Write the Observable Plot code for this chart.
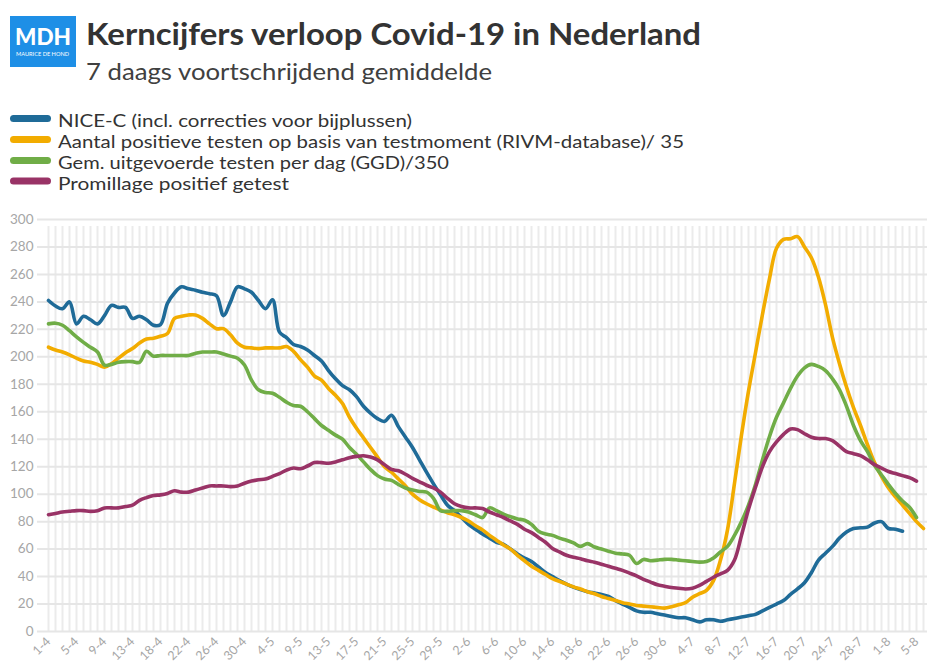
<!DOCTYPE html>
<html>
<head>
<meta charset="utf-8">
<script src="https://cdn.jsdelivr.net/npm/d3@7"></script>
<script src="https://cdn.jsdelivr.net/npm/@observablehq/plot@0.6"></script>
<style>
  html, body { margin: 0; padding: 0; background: #fff; }
  #wrap { position: relative; width: 943px; height: 671px; overflow: hidden; font-family: Lato, "Open Sans", sans-serif; }
  #hdr { position: absolute; left: 0; top: 0; }
  #chart { position: absolute; left: 0; top: 200px; }
</style>
</head>
<body>
<div id="wrap">
  <svg id="hdr" width="943" height="200"></svg>
  <div id="chart"></div>
</div>
<script>
// ---------- data ----------
const title = "Kerncijfers verloop Covid-19 in Nederland";
const subtitle = "7 daags voortschrijdend gemiddelde";
const seriesNames = [
  "NICE-C (incl. correcties voor bijplussen)",
  "Aantal positieve testen op basis van testmoment (RIVM-database)/ 35",
  "Gem. uitgevoerde testen per dag (GGD)/350",
  "Promillage positief getest"
];
const seriesColors = ["#1f6b98", "#f2ac00", "#70ad47", "#993366"];

// categories (day-month), 1-4 .. 6-8, with two dates absent in the source
const monthDays = [[4, 30], [5, 31], [6, 30], [7, 31], [8, 6]];
const absentDates = ["15-4", "6-5"];
const categories = [];
for (const [m, n] of monthDays) for (let d = 1; d <= n; d++) {
  const lab = d + "-" + m;
  if (!absentDates.includes(lab)) categories.push(lab);
}
const tickLabels = ["1-4","5-4","9-4","13-4","18-4","22-4","26-4","30-4","4-5","9-5","13-5","17-5","21-5","25-5","29-5","2-6","6-6","10-6","14-6","18-6","22-6","26-6","30-6","4-7","8-7","12-7","16-7","20-7","24-7","28-7","1-8","5-8"];
const yTicks = [0,20,40,60,80,100,120,140,160,180,200,220,240,260,280,300];

const niceC = [241,237,235,240,224,229.5,227,224,230,237.5,236,236,228,229.5,227,223,223.5,239,246.5,251,
  249.5,248.5,247,246,244.5,230,240,251,249.5,247,241,235,241.5,218,214,209,207.5,205,201,197,
  190,184,179,176,171,164,159,155,153,157.5,149,141.5,134,125,116,107.5,99.5,92,88,83,
  78,74.5,71,68,65,63.5,60,56.5,53.5,51,47,43,40,37,34.5,32.3,30.5,29,28,27,
  25.5,22.5,20,17.5,15,14,14,13,12,11,10,10,8.5,7,8.5,8.5,7.5,8.5,9.5,10.5,
  11.5,12.5,15,17.5,20,22.5,27,31,35.5,43,52,57,62,68,72.5,75,75.5,76,79,80,
  75,74.5,73];
const positief = [207,205,203.5,201.5,199,197,196,194.5,192.5,195,199,203,206,210,213,213.5,215,217,228,229.5,
  230.5,230.5,228,224,220.5,220.5,216,210,207,206.5,206,206.5,206.5,206.5,207.5,204,198,192.5,186,183,
  177,172,166,156,148,141,134,127,120,116,111,106,100,96,93,90.5,88.5,86.5,85,83,
  80.5,77,74,70,66.5,63,60,55.5,51.5,47.5,44.5,41.5,38.5,36.5,34.5,32.5,31,29,27.5,25.5,
  24,22.5,21,20,19,18.5,18,17.5,17,18,19.5,21,25,27.5,30,37,52,74,108,143,
  175,203,231,257,279,285.5,286,287.5,280,272,258,238,214,195,178,163,150,136,123,113,
  104.5,98,92,86,80,75];
const testen = [224,224.5,223,219,214.5,210.5,207,203.5,194,194.5,196,196.5,196.5,196,204,200.5,201,201,201,201,
  201,202.5,203.5,203.5,203.5,202,200.5,199,194,183,176,174,173.5,170.5,167,164.5,164,160,155,150,
  146.5,143,140,134,129,123.5,118,113.5,111,110,107,104.5,103,102,101.5,97,88,87.5,88,88,
  87,85,83,90,88,85.5,83.5,82,81,78,73,71,70,68,66.5,64.5,62,64,61.5,60,
  58.5,57,56.5,55.5,49.5,52.5,51.5,52,52.5,52.5,52,51.5,51,50.5,51,53.5,58,62,70,80,
  92,107,125,142,156,166.5,177,186,192,194.5,193,190,184,176,164,150,139,131,121,114,
  107,100.5,95,90.5,83];
const promillage = [85,86,87,87.5,88,88,87.5,88,90,90,90,91,92,95.5,97.5,99,99.5,100.5,102.5,101.5,
  101.5,103,104.5,106,106,106,105.5,106,108,109.5,110.5,111,113,115,117.5,119,118.5,120.5,123,123,
  122.5,123.5,125,126.5,127.5,128,127,125,121.5,118,117,114.5,111.5,109,106.5,104.5,101.5,97,93,91,
  90,90,89.5,87,85,83,80.5,78,74.5,72,68.5,65,60.5,58,55.5,54,53,51.5,50.5,49,
  47.5,46,44.5,42.5,40.5,38,36,34,33,32,31.5,31,31.5,33.5,36.5,39.5,42,44.5,52,70,
  89,105,120,131,138,143.5,147.5,147,144,141.5,140.5,140.5,139,135,131,129.5,128,125,121.5,119,
  116.5,115,113.5,112,109.5];

const seriesValues = [niceC, positief, testen, promillage];

// ---------- header (title, subtitle, logo, legend) ----------
const NS = "http://www.w3.org/2000/svg";
const hdr = document.getElementById("hdr");
function el(tag, attrs, text) {
  const e = document.createElementNS(NS, tag);
  for (const k in attrs) e.setAttribute(k, attrs[k]);
  if (text != null) e.textContent = text;
  hdr.appendChild(e);
  return e;
}
el("rect", {x: 10, y: 16, width: 66, height: 51, fill: "#1e8fe6"});
el("text", {x: 15, y: 45, "font-family": "Lato", "font-weight": 900, "font-size": 23, fill: "#fff", textLength: 56, lengthAdjust: "spacingAndGlyphs"}, "MDH");
el("text", {x: 16, y: 56, "font-family": "Lato", "font-size": 5, fill: "#fff", textLength: 53, lengthAdjust: "spacingAndGlyphs"}, "MAURICE DE HOND");
el("text", {x: 86, y: 45, "font-family": "Lato", "font-weight": 700, "font-size": 31, fill: "#333", textLength: 615, lengthAdjust: "spacingAndGlyphs"}, title);
el("text", {x: 86, y: 80, "font-family": "Lato", "font-size": 23, fill: "#404040", textLength: 406, lengthAdjust: "spacingAndGlyphs"}, subtitle);
const legendW = [354, 626, 391, 231];
const legendBase = [127, 148, 169, 189.5];
seriesNames.forEach((name, i) => {
  el("line", {x1: 13.5, x2: 47.5, y1: legendBase[i] - 8.5, y2: legendBase[i] - 8.5, stroke: seriesColors[i], "stroke-width": 7, "stroke-linecap": "round"});
  el("text", {x: 58, y: legendBase[i], "font-family": "Lato", "font-size": 18, fill: "#333", textLength: legendW[i], lengthAdjust: "spacingAndGlyphs"}, name);
});

// ---------- chart ----------
const lineMarks = seriesValues.map((vals, s) =>
  Plot.line(vals.map((v, i) => ({date: categories[i], value: v})), {
    x: "date", y: "value", stroke: seriesColors[s], strokeWidth: 3.6,
    curve: "catmull-rom", strokeLinecap: "round", strokeLinejoin: "round"
  })
);

const chart = Plot.plot({
  width: 943,
  height: 471,
  marginTop: 19,
  marginBottom: 40,
  marginLeft: 48,
  marginRight: 20,
  style: {fontFamily: "Lato, sans-serif", background: "#fff"},
  x: {type: "point", domain: categories, padding: 0},
  y: {domain: [0, 300]},
  marks: [
    Plot.ruleX(categories, {y1: 0, y2: 300, stroke: "#ebebeb", strokeWidth: 2, insetBottom: -7}),
    Plot.ruleY(yTicks, {stroke: "#e6e6e6", strokeWidth: 2, insetLeft: -11, insetRight: -4}),
    Plot.axisY({ticks: yTicks, tickSize: 0, tickPadding: 15, fontSize: 13.5, color: "#a6a6a6", label: null}),
    Plot.axisX({ticks: tickLabels, tickSize: 0, tickRotate: -45, tickPadding: 8, fontSize: 12.5, color: "#a6a6a6", label: null}),
    ...lineMarks
  ]
});
document.getElementById("chart").appendChild(chart);
</script>
</body>
</html>
